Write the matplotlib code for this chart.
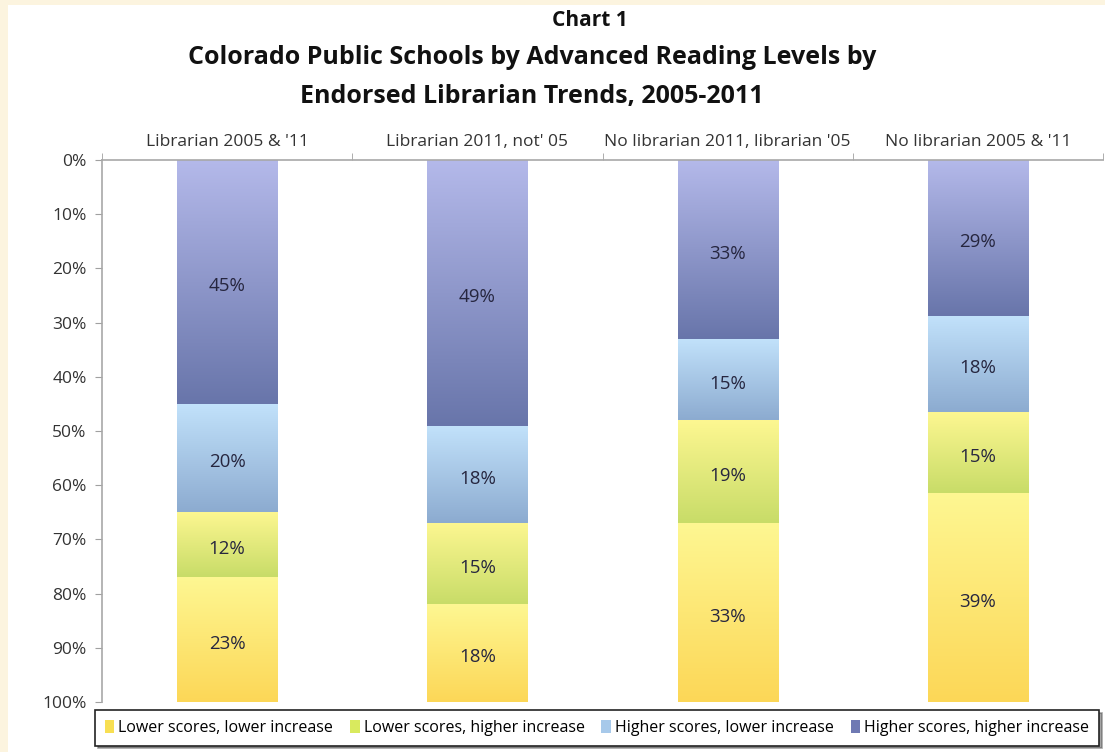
import numpy as np
import matplotlib
matplotlib.use("Agg")
import matplotlib.pyplot as plt
from matplotlib.colors import to_rgb
from matplotlib.patches import Rectangle, Patch

plt.rcParams['font.family'] = ['Open Sans', 'DejaVu Sans']

categories = ["Librarian 2005 & '11", "Librarian 2011, not' 05",
              "No librarian 2011, librarian '05", "No librarian 2005 & '11"]
series_names = ["Higher scores, higher increase", "Higher scores, lower increase",
                "Lower scores, higher increase", "Lower scores, lower increase"]
higher_higher = [45, 49, 33, 29]
higher_lower = [20, 18, 15, 18]
lower_higher = [12, 15, 19, 15]
lower_lower = [23, 18, 33, 39]
yticks = [0, 10, 20, 30, 40, 50, 60, 70, 80, 90, 100]

series = [higher_higher, higher_lower, lower_higher, lower_lower]
grad = [("#b4b9ea", "#6875aa"),
        ("#c2e2fb", "#8cabd0"),
        ("#fdf791", "#c8dc68"),
        ("#fef792", "#fcd757")]
legend_cols = {"Lower scores, lower increase": "#f8df52",
               "Lower scores, higher increase": "#d9ea5e",
               "Higher scores, lower increase": "#a7c9ea",
               "Higher scores, higher increase": "#6f79b3"}

W, H = 1105, 752
fig = plt.figure(figsize=(W / 100, H / 100), dpi=100)
fig.patch.set_facecolor("#fcf4df")
fig.patches.append(Rectangle((8 / W, 0), 1, 1 - 5 / H, transform=fig.transFigure,
                             facecolor="white", edgecolor="none", zorder=-10))

ax = fig.add_axes([102 / W, 1 - 702 / H, (1103 - 102) / W, (702 - 160) / H])
ax.set_facecolor("white")
ax.set_zorder(1)

data = np.array(series, dtype=float)
frac = data / data.sum(axis=0) * 100
x = np.arange(len(categories))
bw = 0.4
bottom = np.zeros(len(categories))
for i, name in enumerate(series_names):
    bars = ax.bar(x, frac[i], bw, bottom=bottom, color="none", edgecolor="none", label=name)
    c0, c1 = np.array(to_rgb(grad[i][0])), np.array(to_rgb(grad[i][1]))
    t = np.linspace(0, 1, 256)[:, None, None]
    img = c0 * (1 - t) + c1 * t
    for b, v, raw in zip(bars, frac[i], data[i]):
        x0, y0 = b.get_x(), b.get_y()
        im = ax.imshow(img, extent=(x0, x0 + b.get_width(), y0 + b.get_height(), y0),
                       origin="upper", aspect="auto", zorder=2, interpolation="bilinear")
        im.set_clip_path(b)
        ax.annotate(f"{int(raw)}%", (x0 + b.get_width() / 2, y0 + b.get_height() / 2),
                    xytext=(0, -3), textcoords="offset points",
                    ha="center", va="center", fontsize=13.5, color="#26263f", zorder=3)
    bottom += frac[i]

ax.set_xlim(-0.5, len(categories) - 0.5)
ax.set_ylim(100, 0)
ax.set_yticks(yticks)
ax.set_yticklabels([f"{v}%" for v in yticks], fontsize=12.5, color="#333333")
ax.tick_params(axis="y", length=5, color="#a0a0a0", pad=6)

ax.xaxis.tick_top()
ax.set_xticks(x)
ax.set_xticklabels(categories, fontsize=12.5, color="#333333")
ax.tick_params(axis="x", length=0, pad=7)
ax.set_xticks(np.arange(-0.5, len(categories) + 0.5, 1), minor=True)
ax.tick_params(axis="x", which="minor", length=5, color="#a0a0a0", top=True, bottom=False)

for s in ["right", "bottom"]:
    ax.spines[s].set_visible(False)
for s in ["left", "top"]:
    ax.spines[s].set_color("#a8a8a8")
    ax.spines[s].set_linewidth(1.2)

fig.text(590 / W, 1 - 20 / H, "Chart 1", ha="center", va="center",
         fontsize=15, fontweight="bold", color="#111111")
fig.text(532 / W, 1 - 58 / H, "Colorado Public Schools by Advanced Reading Levels by",
         ha="center", va="center", fontsize=18, fontweight="bold", color="#111111")
fig.text(532 / W, 1 - 97 / H, "Endorsed Librarian Trends, 2005-2011",
         ha="center", va="center", fontsize=18, fontweight="bold", color="#111111")

order = ["Lower scores, lower increase", "Lower scores, higher increase",
         "Higher scores, lower increase", "Higher scores, higher increase"]
handles = [Patch(facecolor=legend_cols[n], edgecolor="none") for n in order]
leg = fig.legend(handles, order, loc="center", bbox_to_anchor=(597 / W, 1 - 728 / H),
                 ncol=4, frameon=True, fancybox=False, shadow=True, fontsize=11.5,
                 handlelength=0.6, handleheight=0.8, handletextpad=0.25, columnspacing=1.05,
                 borderpad=0.6, borderaxespad=0)
leg.get_frame().set_edgecolor("#222222")
leg.get_frame().set_linewidth(1.2)

fig.savefig("out.png", dpi=100)
